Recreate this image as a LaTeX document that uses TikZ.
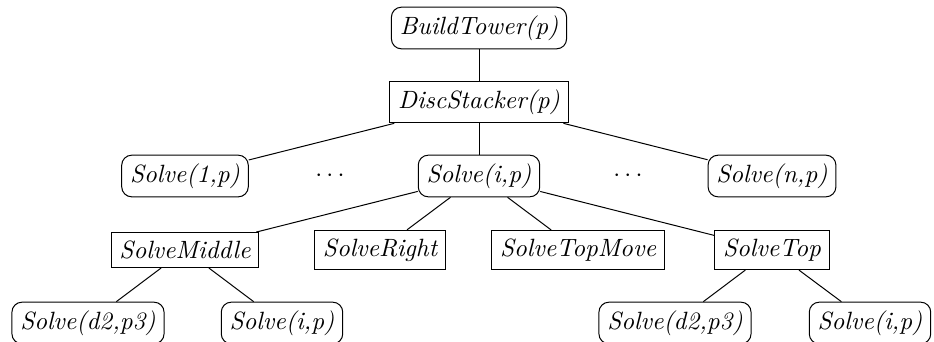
\documentclass[tikz,border=0pt]{standalone}
\begin{document}
\begin{tikzpicture}[x=0.4pt,y=-0.4pt,
  rnode/.style={draw,rounded corners=4pt,font=\itshape},
  snode/.style={draw,font=\itshape},
  dnode/.style={},
  edge/.style={draw}]
\useasboundingbox (0,0) rectangle (934,341);
\node[rnode] (bt) at (479,28) {BuildTower(p)};
\node[snode] (ds) at (479,102) {DiscStacker(p)};
\node[rnode] (s1) at (185,176) {Solve(1,p)};
\node[dnode] (d1) at (330,176) {$\cdots$};
\node[rnode] (si) at (479,176) {Solve(i,p)};
\node[dnode] (d2) at (628,176) {$\cdots$};
\node[rnode] (sn) at (772,176) {Solve(n,p)};
\node[snode] (sm) at (185,250) {SolveMiddle};
\node[snode] (sr) at (380,250) {SolveRight};
\node[snode] (stm) at (578,250) {SolveTopMove};
\node[snode] (st) at (772,250) {SolveTop};
\node[rnode] (a1) at (88,323) {Solve(d2,p3)};
\node[rnode] (a2) at (282,323) {Solve(i,p)};
\node[rnode] (b1) at (675,323) {Solve(d2,p3)};
\node[rnode] (b2) at (870,323) {Solve(i,p)};
\draw[edge] (bt) -- (ds);
\draw[edge] (ds) -- (s1);
\draw[edge] (ds) -- (si);
\draw[edge] (ds) -- (sn);
\draw[edge] (si) -- (sm);
\draw[edge] (si) -- (sr);
\draw[edge] (si) -- (stm);
\draw[edge] (si) -- (st);
\draw[edge] (sm) -- (a1);
\draw[edge] (sm) -- (a2);
\draw[edge] (st) -- (b1);
\draw[edge] (st) -- (b2);
\end{tikzpicture}
\end{document}
